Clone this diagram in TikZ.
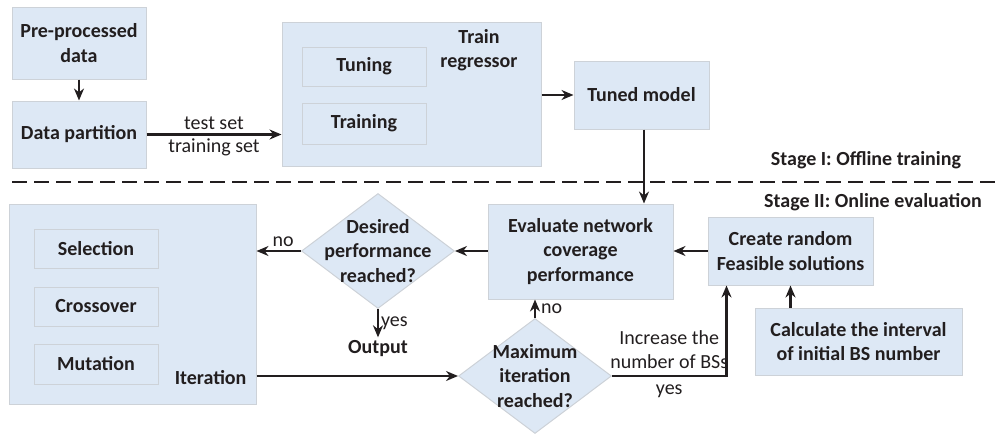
\documentclass[tikz,border=0pt]{standalone}
\usepackage{fontspec}
\setmainfont{Carlito}
\usetikzlibrary{shapes.geometric, arrows.meta}

\definecolor{boxfill}{RGB}{221,232,245}
\definecolor{boxline}{RGB}{205,210,216}
\definecolor{ink}{RGB}{34,30,31}

\begin{document}
\begin{tikzpicture}[
    x=1pt, y=-1pt, >={Stealth[length=12pt, width=10pt]}, font=\fontsize{20}{24.5}\selectfont, text=ink,
    box/.style={draw=boxline, fill=boxfill, line width=1pt, align=center,
        font=\fontsize{20}{24.5}\selectfont\bfseries, inner sep=0pt},
    decision/.style={diamond, draw=boxline, fill=boxfill, line width=1pt,
        inner sep=0pt, minimum width=153pt, minimum height=115pt},
    flow/.style={->, draw=ink, line width=2.3pt},
    tag/.style={font=\fontsize{20}{24.5}\selectfont\bfseries, align=center}
]
    \useasboundingbox (0,0) rectangle (1002,434);

    % Stage I
    \node[box, minimum width=134pt, minimum height=72pt] (pre) at (79,43) {Pre-processed\\data};
    \node[box, minimum width=134pt, minimum height=67pt] (part) at (79,134.5) {Data partition};
    \node[box, minimum width=259pt, minimum height=144pt] (train) at (411.5,94) {};
    \node[box, minimum width=124pt, minimum height=39pt] (tuning) at (364,66.5) {Tuning};
    \node[box, minimum width=124pt, minimum height=41pt] (training) at (364,123.5) {Training};
    \node[tag] (trainlbl) at (479,50) {Train\\regressor};
    \node[box, minimum width=135pt, minimum height=68pt] (tuned) at (641.5,95) {Tuned model};
    \node[tag] (stage1) at (866,160) {Stage I: Offline training};

    \draw[ink, line width=2.3pt, dash pattern=on 15pt off 7pt] (12,182) -- (1002,182);

    % Stage II
    \node[tag] (stage2) at (873,202) {Stage II: Online evaluation};
    \node[box, minimum width=185pt, minimum height=95pt] (eval) at (580.5,251.5) {Evaluate network\\coverage\\performance};
    \node[box, minimum width=165pt, minimum height=68pt] (create) at (790.5,251) {Create random\\Feasible solutions};
    \node[box, minimum width=207pt, minimum height=67pt] (calc) at (858.5,341.5) {Calculate the interval\\of initial BS number};
    \node[decision, label={[tag]center:Desired\\performance\\reached?}] (desired) at (378,251) {};
    \node[decision, label={[tag]center:Maximum\\iteration\\reached?}] (maxit) at (535,376) {};
    \node[tag] (output) at (378,349) {Output};
    \node[box, minimum width=247pt, minimum height=200pt] (iter) at (132.5,304) {};
    \node[box, minimum width=124pt, minimum height=39pt] (sel) at (96,248.5) {Selection};
    \node[box, minimum width=124pt, minimum height=39pt] (cross) at (96,306.5) {Crossover};
    \node[box, minimum width=124pt, minimum height=40pt] (mut) at (96,364) {Mutation};
    \node[tag, anchor=east] (iterlbl) at (250,378) {Iteration};

    \draw[flow] (pre) -- (part);
    \draw[flow] (part.east) -- node[above] {test set} node[below] {training set} (part.east -| train.west);
    \draw[flow] (tuned.west -| train.east) -- (tuned.west);
    \draw[flow] ([xshift=2.5pt]tuned.south) -- ([xshift=2.5pt]tuned.south |- eval.north);
    \draw[flow] (create.west) -- (create.west -| eval.east);
    \draw[flow] (eval.west |- desired) -- (desired.east);
    \draw[flow] (desired.west) -- node[above, pos=0.4] {no} (desired.west -| iter.east);
    \draw[flow] (desired.south) -- node[right, inner sep=2pt] {yes} (output.north);
    \draw[flow] (iter.east |- maxit) -- (maxit.west);
    \draw[flow] (maxit.north) -- node[right, inner sep=5pt] {no} (maxit.north |- eval.south);
    \draw[flow] (maxit.east) -| node[pos=0.25, above, align=center, inner sep=6pt] {Increase the\\number of BSs}
        node[pos=0.25, below, inner sep=8pt] {yes} ([xshift=19pt]create.south west);
    \draw[flow] (create |- calc.north) -- (create.south);

\end{tikzpicture}
\end{document}
